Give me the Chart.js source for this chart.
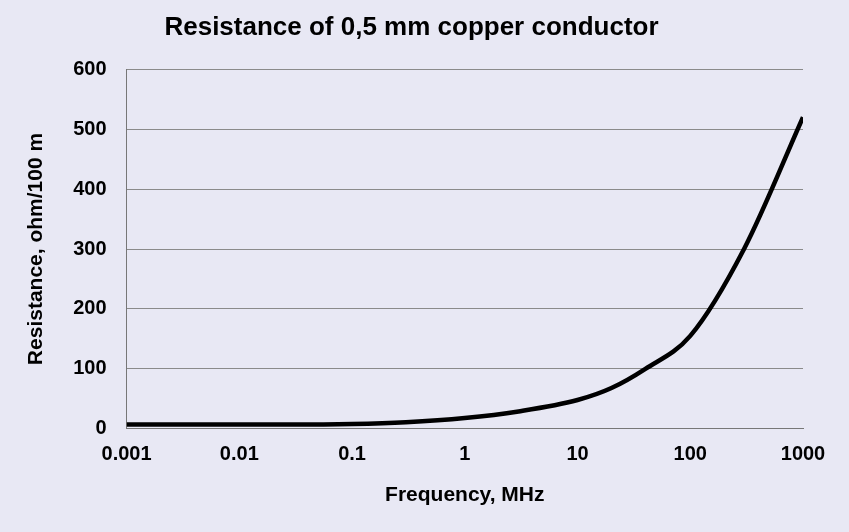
<!DOCTYPE html>
<html><head><meta charset="utf-8">
<script src="https://cdn.jsdelivr.net/npm/chart.js@4/dist/chart.umd.min.js"></script>
<style>html,body{margin:0;padding:0;background:#e8e8f4;}#w{width:849px;height:532px;}</style>
</head><body><div id="w"><canvas id="c"></canvas></div>
<script>
const freqMHz = [0.001, 0.003, 0.01, 0.03, 0.1, 0.3, 1, 3, 10, 20, 40, 100, 300, 1000];
const resistance = [7, 7, 7, 7, 8, 11, 18, 29, 48, 68, 100, 155, 300, 520];
const yTicks = [0, 100, 200, 300, 400, 500, 600];
const F = "'Liberation Sans', Arial, sans-serif";
new Chart(document.getElementById('c'), {
  type: 'line',
  data: { datasets: [{ data: freqMHz.map((x, i) => ({ x, y: resistance[i] })),
    borderColor: '#000', borderWidth: 4.5, pointRadius: 0, tension: 0.4, cubicInterpolationMode: 'monotone', fill: false }] },
  options: {
    responsive: true, maintainAspectRatio: false, animation: false,
    layout: { padding: { left: 20, right: 46, top: 8, bottom: 20 } },
    plugins: { legend: { display: false }, tooltip: { enabled: false },
      title: { display: true, text: 'Resistance of 0,5 mm copper conductor', color: '#000',
        font: { family: F, size: 26, weight: 'bold' }, padding: { top: 4, bottom: 26 } } },
    scales: {
      x: { type: 'logarithmic', min: 0.001, max: 1000,
        grid: { display: false, drawTicks: true, tickLength: 6, color: '#777' },
        border: { color: '#777', width: 1 },
        afterBuildTicks: a => { a.ticks = [0.001,0.01,0.1,1,10,100,1000].map(v => ({ value: v })); },
        ticks: { color: '#000', font: { family: F, size: 20, weight: 'bold' }, maxRotation: 0, autoSkip: false, padding: 8,
          callback: v => String(v) },
        title: { display: true, text: 'Frequency, MHz', color: '#000', font: { family: F, size: 21, weight: 'bold' }, padding: { top: 8 } } },
      y: { min: 0, max: 600,
        afterBuildTicks: a => { a.ticks = yTicks.map(v => ({ value: v })); },
        grid: { color: '#8a8a8a', lineWidth: 1, drawTicks: false },
        border: { color: '#777', width: 1 },
        ticks: { color: '#000', font: { family: F, size: 20, weight: 'bold' }, padding: 20 },
        title: { display: true, text: 'Resistance, ohm/100 m', color: '#000', font: { family: F, size: 21, weight: 'bold' }, padding: { bottom: 4 } } }
    }
  }
});
</script></body></html>
